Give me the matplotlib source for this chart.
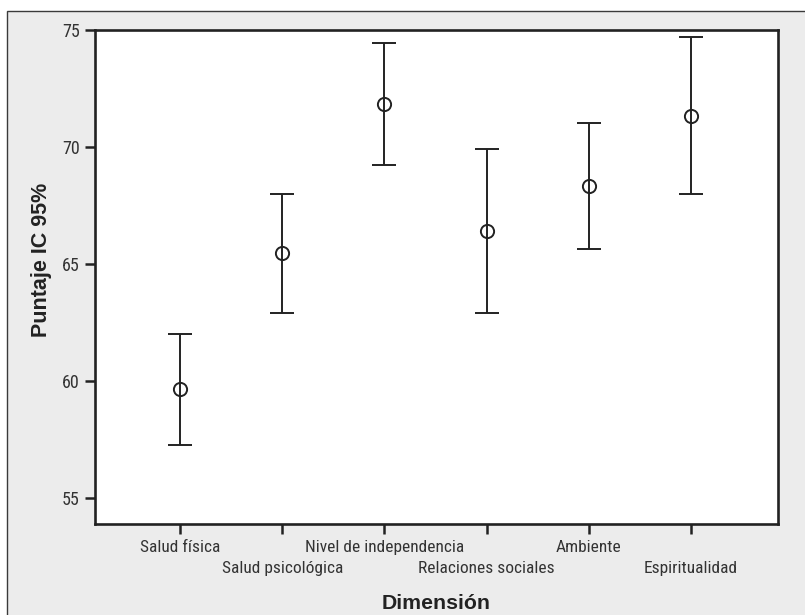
import matplotlib
matplotlib.use("Agg")
import matplotlib.pyplot as plt
from matplotlib import font_manager
from matplotlib.patches import Rectangle
from matplotlib.transforms import blended_transform_factory, offset_copy

dimensiones = ["Salud física", "Salud psicológica", "Nivel de independencia",
               "Relaciones sociales", "Ambiente", "Espiritualidad"]
media = [59.64, 65.45, 71.85, 66.42, 68.33, 71.34]
ic_inf = [57.26, 62.92, 69.22, 62.90, 65.63, 67.99]
ic_sup = [62.02, 67.98, 74.45, 69.90, 71.03, 74.69]
yticks = [55, 60, 65, 70, 75]

installed = {f.name for f in font_manager.fontManager.ttflist}
narrow_name = next((n for n in ["Liberation Sans Narrow", "Roboto Condensed",
                                "DejaVu Sans Condensed"] if n in installed),
                   "Liberation Sans")
narrow = [narrow_name, "DejaVu Sans"]
bold = ["Liberation Sans", "DejaVu Sans"]

fig = plt.figure(figsize=(8.05, 6.15), dpi=100)
fig.patch.set_facecolor("white")
# grey panel with thin frame on left/top
fig.patches.append(Rectangle((7 / 805, -0.1), 1.2, 1 - 11 / 615 + 0.1,
                             transform=fig.transFigure, facecolor="#ececec",
                             edgecolor="#3a3a3a", linewidth=1.0, zorder=-1))

ax = fig.add_axes([95 / 805, 1 - 524 / 615, (778 - 95) / 805, (524 - 30) / 615])
ax.set_facecolor("white")

x = list(range(1, len(dimensiones) + 1))
err_lo = [m - lo for m, lo in zip(media, ic_inf)]
err_hi = [hi - m for m, hi in zip(media, ic_sup)]
ax.errorbar(x, media, yerr=[err_lo, err_hi], fmt="o", color="#222222",
            markerfacecolor="none", markeredgecolor="#222222", markersize=9.5,
            markeredgewidth=1.4, elinewidth=1.4, capsize=8.3, capthick=1.4)

ax.set_xlim(0.168, 6.851)
ax.set_ylim(53.89, 75)
ax.set_yticks(yticks)
ax.set_yticklabels([str(v) for v in yticks], family=narrow, fontsize=13,
                   color="#333333")
ax.set_xticks(x)
ax.set_xticklabels([])
ax.tick_params(axis="both", direction="out", length=7, width=1.8,
               color="#222222", pad=4)

# staggered category labels, two rows
trans = blended_transform_factory(ax.transData, ax.transAxes)
for i, d in enumerate(dimensiones):
    dy = -28 if i % 2 == 0 else -49
    ax.text(x[i], 0, d, transform=offset_copy(trans, fig=fig, y=dy, units="dots"),
            ha="center", va="baseline", family=narrow, fontsize=12.5,
            color="#333333")

for s in ax.spines.values():
    s.set_linewidth(1.9)
    s.set_color("#222222")

ax.set_ylabel("Puntaje IC 95%", family=bold, fontweight="bold", fontsize=15.5,
              color="#222222")
ax.yaxis.set_label_coords(-53 / 683, 1 - (260 - 30) / 494)
ax.yaxis.label.set_va("center")
ax.set_xlabel("Dimensión", family=bold, fontweight="bold", fontsize=15.3,
              color="#222222")
ax.xaxis.set_label_coords(0.5, -85 / 494)
ax.xaxis.label.set_va("baseline")

fig.savefig("out.png", dpi=100, facecolor=fig.get_facecolor())
